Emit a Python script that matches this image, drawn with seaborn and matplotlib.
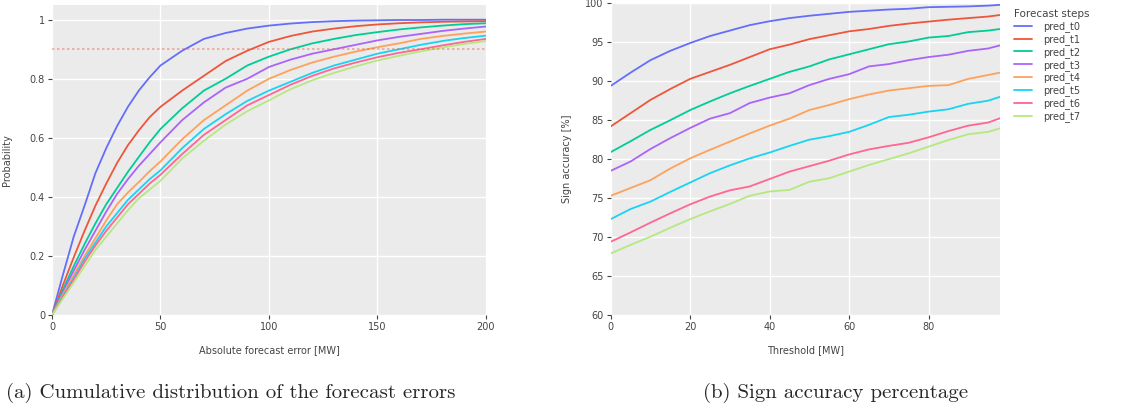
import matplotlib
matplotlib.use("Agg")
import matplotlib.pyplot as plt
import seaborn as sns
import pandas as pd
import numpy as np

# 데이터
steps = ["pred_t0", "pred_t1", "pred_t2", "pred_t3", "pred_t4", "pred_t5", "pred_t6", "pred_t7"]
colors = ["#636EFA", "#EF553B", "#00CC96", "#AB63FA", "#FFA15A", "#19D3F3", "#FF6692", "#B6E880"]

# (a) cumulative distribution
err_mw = [0, 5, 10, 15, 20, 25, 30, 35, 40, 45, 50, 60, 70, 80, 90, 100, 110, 120, 130, 140, 150, 160, 170, 180, 190, 200]
cdf_t0 = [0, 0.135, 0.265, 0.37, 0.48, 0.565, 0.64, 0.705, 0.76, 0.805, 0.845, 0.895, 0.935, 0.955, 0.97, 0.98, 0.987, 0.992, 0.995, 0.997, 0.998, 0.999, 0.999, 1.0, 1.0, 1.0]
cdf_t1 = [0, 0.10, 0.195, 0.285, 0.37, 0.445, 0.515, 0.575, 0.625, 0.67, 0.705, 0.76, 0.81, 0.86, 0.895, 0.925, 0.945, 0.96, 0.97, 0.978, 0.984, 0.988, 0.991, 0.993, 0.994, 0.995]
cdf_t2 = [0, 0.085, 0.165, 0.24, 0.31, 0.375, 0.43, 0.485, 0.535, 0.585, 0.63, 0.70, 0.76, 0.80, 0.845, 0.875, 0.90, 0.92, 0.935, 0.948, 0.958, 0.967, 0.974, 0.98, 0.985, 0.988]
cdf_t3 = [0, 0.077, 0.15, 0.22, 0.285, 0.35, 0.41, 0.46, 0.505, 0.545, 0.585, 0.66, 0.72, 0.77, 0.80, 0.84, 0.865, 0.885, 0.90, 0.915, 0.93, 0.942, 0.952, 0.962, 0.97, 0.977]
cdf_t4 = [0, 0.07, 0.135, 0.20, 0.26, 0.32, 0.375, 0.415, 0.45, 0.487, 0.52, 0.595, 0.66, 0.71, 0.76, 0.80, 0.83, 0.855, 0.875, 0.892, 0.907, 0.92, 0.935, 0.945, 0.953, 0.96]
cdf_t5 = [0, 0.064, 0.125, 0.19, 0.245, 0.30, 0.345, 0.39, 0.425, 0.46, 0.49, 0.565, 0.63, 0.68, 0.725, 0.76, 0.79, 0.82, 0.845, 0.865, 0.885, 0.90, 0.915, 0.928, 0.938, 0.946]
cdf_t6 = [0, 0.06, 0.12, 0.18, 0.235, 0.285, 0.33, 0.375, 0.41, 0.445, 0.475, 0.545, 0.61, 0.66, 0.71, 0.745, 0.78, 0.81, 0.835, 0.855, 0.873, 0.888, 0.90, 0.913, 0.925, 0.935]
cdf_t7 = [0, 0.055, 0.11, 0.165, 0.22, 0.265, 0.31, 0.355, 0.395, 0.425, 0.455, 0.53, 0.59, 0.645, 0.69, 0.727, 0.765, 0.795, 0.82, 0.842, 0.862, 0.878, 0.893, 0.906, 0.918, 0.928]

# (b) sign accuracy
thr_mw = [0, 5, 10, 15, 20, 25, 30, 35, 40, 45, 50, 55, 60, 65, 70, 75, 80, 85, 90, 95, 98]
acc_t0 = [89.4, 91.1, 92.7, 93.9, 94.9, 95.8, 96.5, 97.2, 97.7, 98.1, 98.4, 98.65, 98.9, 99.05, 99.2, 99.3, 99.5, 99.55, 99.6, 99.7, 99.8]
acc_t1 = [84.2, 85.9, 87.6, 89.0, 90.3, 91.2, 92.1, 93.1, 94.1, 94.7, 95.4, 95.9, 96.4, 96.7, 97.1, 97.4, 97.65, 97.9, 98.1, 98.3, 98.5]
acc_t2 = [80.9, 82.3, 83.75, 85.0, 86.3, 87.4, 88.45, 89.4, 90.3, 91.2, 91.9, 92.8, 93.45, 94.1, 94.75, 95.1, 95.6, 95.8, 96.3, 96.5, 96.7]
acc_t3 = [78.5, 79.7, 81.3, 82.7, 84.0, 85.2, 85.9, 87.2, 87.9, 88.45, 89.5, 90.3, 90.9, 91.9, 92.2, 92.7, 93.1, 93.4, 93.9, 94.2, 94.6]
acc_t4 = [75.3, 76.3, 77.3, 78.8, 80.1, 81.2, 82.25, 83.3, 84.3, 85.2, 86.3, 86.95, 87.7, 88.3, 88.8, 89.1, 89.4, 89.5, 90.3, 90.8, 91.1]
acc_t5 = [72.3, 73.6, 74.55, 75.8, 77.0, 78.2, 79.2, 80.1, 80.85, 81.7, 82.5, 82.95, 83.5, 84.4, 85.4, 85.7, 86.1, 86.4, 87.1, 87.5, 88.0]
acc_t6 = [69.4, 70.6, 71.85, 73.05, 74.2, 75.2, 76.0, 76.5, 77.45, 78.4, 79.1, 79.8, 80.6, 81.25, 81.7, 82.1, 82.8, 83.6, 84.3, 84.7, 85.25]
acc_t7 = [67.9, 69.0, 70.05, 71.2, 72.3, 73.3, 74.25, 75.3, 75.85, 76.05, 77.1, 77.55, 78.4, 79.25, 80.0, 80.75, 81.6, 82.45, 83.2, 83.5, 83.95]

cdfs = [cdf_t0, cdf_t1, cdf_t2, cdf_t3, cdf_t4, cdf_t5, cdf_t6, cdf_t7]
accs = [acc_t0, acc_t1, acc_t2, acc_t3, acc_t4, acc_t5, acc_t6, acc_t7]

df_cdf = pd.concat([pd.DataFrame({"x": err_mw, "y": v, "step": s}) for s, v in zip(steps, cdfs)])
df_acc = pd.concat([pd.DataFrame({"x": thr_mw, "y": v, "step": s}) for s, v in zip(steps, accs)])

sns.set_style("whitegrid")
plt.rcParams['font.family'] = ['DejaVu Sans']
palette = dict(zip(steps, colors))

fig = plt.figure(figsize=(11.4, 4.12), dpi=100)
ax1 = fig.add_axes([0.0456, 0.2354, 0.3807, 0.7526])
ax2 = fig.add_axes([0.5357, 0.2354, 0.3415, 0.7566])

sns.lineplot(data=df_cdf, x="x", y="y", hue="step", palette=palette, ax=ax1, legend=False, linewidth=1.3)
ax1.axhline(0.9, color="#EF553B", alpha=0.45, linestyle=(0, (1.5, 1.5)), linewidth=1.2)
sns.lineplot(data=df_acc, x="x", y="y", hue="step", palette=palette, ax=ax2, linewidth=1.3)

for ax in (ax1, ax2):
    ax.set_facecolor("#EBEBEB")
    ax.grid(True, color="white", linewidth=1.0)
    for sp in ax.spines.values():
        sp.set_visible(False)
    ax.tick_params(axis="both", which="both", length=3, width=0.8, color="#444444",
                   labelsize=7, labelcolor="#444444", pad=2, bottom=True, left=True)

ax1.set_xlim(0, 200)
ax1.set_ylim(0, 1.05)
ax1.set_xticks([0, 50, 100, 150, 200])
ax1.set_yticks([0, 0.2, 0.4, 0.6, 0.8, 1.0])
ax1.set_yticklabels(["0", "0.2", "0.4", "0.6", "0.8", "1"])
ax1.set_xlabel("Absolute forecast error [MW]", fontsize=7, color="#444444")
ax1.set_ylabel("Probability", fontsize=7, color="#444444")
ax1.xaxis.set_label_coords(0.5, -0.097)
ax1.yaxis.set_label_coords(-0.092, 0.5)

ax2.set_xlim(0, 98)
ax2.set_ylim(60, 100)
ax2.set_xticks([0, 20, 40, 60, 80])
ax2.set_yticks([60, 65, 70, 75, 80, 85, 90, 95, 100])
ax2.set_xlabel("Threshold [MW]", fontsize=7, color="#444444")
ax2.set_ylabel("Sign accuracy [%]", fontsize=7, color="#444444")
ax2.xaxis.set_label_coords(0.5, -0.097)
ax2.yaxis.set_label_coords(-0.1, 0.5)

leg = ax2.legend(title="Forecast steps", loc="upper left", bbox_to_anchor=(1.02, 1.0),
                 frameon=False, fontsize=7, title_fontsize=7.5, handlelength=1.9,
                 handletextpad=1.1, labelspacing=0.2, borderaxespad=0.2, borderpad=0.4)
leg._legend_box.align = "left"
for t in leg.get_texts():
    t.set_color("#444444")
leg.get_title().set_color("#444444")

fig.text(0.005, 0.035, "(a) Cumulative distribution of the forecast errors", fontfamily="cmr10", fontsize=15, ha="left")
fig.text(0.617, 0.035, "(b) Sign accuracy percentage", fontfamily="cmr10", fontsize=15, ha="left")

fig.savefig("out.png", dpi=100)
